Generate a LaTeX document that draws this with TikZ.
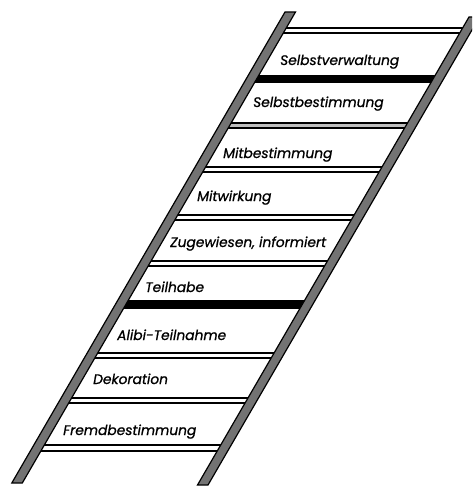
\documentclass[tikz,border=0pt]{standalone}
\usepackage{fontspec}
\setmainfont{Poppins}
\newfontfamily\lblfont{Poppins}[FakeBold=0.9]
\begin{document}
\begin{tikzpicture}[x=1pt,y=-1pt,
  rail/.style={draw=black,line width=1.2pt,fill=black!55,line join=miter},
  rungbar/.style={draw=black,line width=1.8pt},
  lbl/.style={anchor=base west,inner sep=0pt,font=\lblfont\fontsize{13.8}{15}\selectfont\itshape}]
\useasboundingbox (0,0) rectangle (472,487);
\begin{scope}
\clip (0,0) rectangle (472,487);
% rungs
\foreach \yt/\yb/\f in {27/34/white, 75/83/black, 122/129/black!25, 166/173/white, 214/221/white, 260/267/white, 300/309/black, 352/359/white, 397/404/white, 444/452/white} {
  \pgfmathsetmacro\ym{(\yt+\yb)/2}
  \pgfmathsetmacro\xa{285-0.58*(\ym-12)+5}
  \pgfmathsetmacro\xb{462-0.58*(\ym-29)+5}
  \draw[rungbar,fill=\f] (\xa,\yt+0.9) rectangle (\xb,\yb-0.9);
}
% rails
\draw[rail] (285,12) -- (295.5,12) -- (22.3,483) -- (11.8,483) -- cycle;
\draw[rail] (469,17) -- (479.5,17) -- (208,485) -- (197.5,485) -- cycle;
\end{scope}
% labels
\node[lbl] (l1) at (280,65) {Selbstverwaltung};
\node[lbl] (l2) at (253,107) {Selbstbestimmung};
\node[lbl] (l3) at (223,158) {Mitbestimmung};
\node[lbl] (l4) at (197,201) {Mitwirkung};
\node[lbl] (l5) at (170,247) {Zugewiesen, informiert};
\node[lbl] (l6) at (145,292) {Teilhabe};
\node[lbl] (l7) at (117,340) {Alibi-Teilnahme};
\node[lbl] (l8) at (93,384) {Dekoration};
\node[lbl] (l9) at (63,435) {Fremdbestimmung};
\end{tikzpicture}
\end{document}
